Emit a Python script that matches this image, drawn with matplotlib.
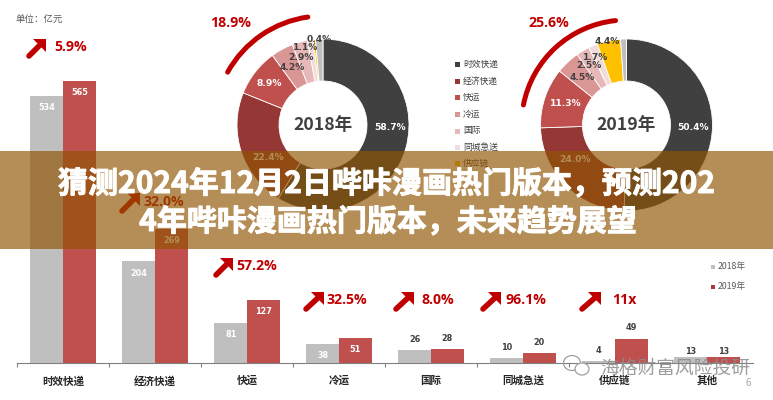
import matplotlib
matplotlib.use("Agg")
import matplotlib.pyplot as plt
import matplotlib.patheffects as pe
from matplotlib.patches import Arc, Ellipse, Polygon, Rectangle
import numpy as np

plt.rcParams['font.family'] = ['Noto Sans CJK SC', 'DejaVu Sans']

W, H = 773, 400

categories = ["时效快递", "经济快递", "快运", "冷运", "国际", "同城急送", "供应链", "其他"]
values_2018 = [534, 204, 81, 38, 26, 10, 4, 13]
values_2019 = [565, 269, 127, 51, 28, 20, 49, 13]
growth_labels = ["5.9%", "32.0%", "57.2%", "32.5%", "8.0%", "96.1%", "11x"]

share_2018 = [58.7, 22.4, 8.9, 4.2, 2.9, 1.1, 0.4, 1.4]
share_2019 = [50.4, 24.0, 11.3, 4.5, 2.5, 1.7, 4.4, 1.1]
share_labels_2018 = ["58.7%", "22.4%", "8.9%", "4.2%", "2.9%", "1.1%", "0.4%"]
share_labels_2019 = ["50.4%", "24.0%", "11.3%", "4.5%", "2.5%", "1.7%", "4.4%"]
share_colors = ["#404040", "#953735", "#C0504D", "#D99694", "#E6B9B8", "#F2DCDB", "#FFC000", "#BFBFBF"]
legend_names = categories[:7]

GRAY = "#BFBFBF"
RED = "#C0504D"
DARK_RED = "#C00000"
NUM_FONT = "DejaVu Sans"
BIG_NUM_FONT = "Open Sans"

fig = plt.figure(figsize=(W / 100, H / 100), dpi=100)


def px_axes(x0, y0, x1, y1, **kw):
    # axes placed by pixel box, y measured from the top of the image
    return fig.add_axes([x0 / W, 1 - y1 / H, (x1 - x0) / W, (y1 - y0) / H], **kw)


# Bars
ax = px_axes(17, 0, 753, 363)
ax.patch.set_alpha(0)
x = np.arange(len(categories))
bw = 0.355
ax.bar(x - bw / 2, values_2018, bw, color=GRAY)
ax.bar(x + bw / 2, values_2019, bw, color=RED)
ax.set_xlim(-0.5, 7.5)
ax.set_ylim(0, 726)
for s in ["top", "left", "right"]:
    ax.spines[s].set_visible(False)
ax.spines["bottom"].set_color("#808080")
ax.set_yticks([])
ax.set_xticks(x - 0.5)
ax.set_xticklabels([])
ax.tick_params(axis="x", length=3.2, width=0.8, color="#808080", direction="out")

for i, (a, b) in enumerate(zip(values_2018, values_2019)):
    if i < 4:
        ax.text(i - bw / 2, a - 24, str(a), color="white", fontsize=5.9, family=NUM_FONT, fontweight="bold", ha="center", va="center")
        ax.text(i + bw / 2, b - 24, str(b), color="white", fontsize=5.9, family=NUM_FONT, fontweight="bold", ha="center", va="center")
    else:
        off = 10 if i == 7 else 21
        ax.text(i - bw / 2, a + off, str(a), color="#404040", fontsize=5.9, family=NUM_FONT, fontweight="bold", ha="center", va="center")
        ax.text(i + bw / 2, b + off, str(b), color="#404040", fontsize=5.9, family=NUM_FONT, fontweight="bold", ha="center", va="center")
    ax.text(i, -36, categories[i], color="#262626", fontsize=7.6, fontweight="bold", ha="center", va="center")


# Donuts
def donut(cx, cy, shares):
    a = px_axes(cx - 100, cy - 100, cx + 100, cy + 100)
    a.pie(shares, colors=share_colors, radius=86, startangle=90, counterclock=False,
          wedgeprops=dict(width=42, edgecolor="white", linewidth=0.6))
    a.set_xlim(-100, 100)
    a.set_ylim(-100, 100)
    a.set_aspect("equal")
    a.axis("off")


donut(323, 125, share_2018)
donut(626.5, 125, share_2019)

# Everything else goes on a pixel overlay
ov = fig.add_axes([0, 0, 1, 1], zorder=10)
ov.set_xlim(0, W)
ov.set_ylim(H, 0)
ov.axis("off")

ov.text(15, 20, "单位：亿元", fontsize=6.8, color="#595959", va="center")

# Brackets over the small slices
ov.add_patch(Arc((323, 125), 218, 218, theta1=209, theta2=262, color=DARK_RED, lw=3.6, capstyle="round"))
ov.add_patch(Arc((626.5, 125), 210, 210, theta1=191, theta2=264, color=DARK_RED, lw=3.6, capstyle="round"))
ov.text(210, 23, "18.9%", color=DARK_RED, fontsize=10.2, family=BIG_NUM_FONT, fontweight="bold", va="center")
ov.text(528, 23, "25.6%", color=DARK_RED, fontsize=10.2, family=BIG_NUM_FONT, fontweight="bold", va="center")

ov.text(323, 125, "2018年", color="#404040", fontsize=12.7, fontweight="bold", ha="center", va="center")
ov.text(626.5, 125, "2019年", color="#404040", fontsize=12.7, fontweight="bold", ha="center", va="center")

pos_2018 = [(390, 128), (268, 158), (269, 84), (292, 68), (301, 57), (306, 47), (319, 39)]
pos_2019 = [(693, 128), (575, 159), (566, 103), (582, 78), (589, 66), (596, 57), (607, 42)]
for labels, pos in [(share_labels_2018, pos_2018), (share_labels_2019, pos_2019)]:
    for j, (t, p) in enumerate(zip(labels, pos)):
        ov.text(p[0], p[1], t, color="white" if j < 3 else "#404040", fontsize=6.6,
                family=NUM_FONT, fontweight="bold", ha="center", va="center")

# Donut legend
legend_y = [64, 81, 97, 114, 131, 147, 163]
for name, col, ly in zip(legend_names, share_colors, legend_y):
    ov.add_patch(Rectangle((455, ly - 2.5), 5, 5, color=col, lw=0))
    ov.text(463, ly, name, fontsize=6.3, color="#404040", va="center")

# Bar legend
for name, col, ly in [("2018年", GRAY, 267), ("2019年", "#A83C3C", 287)]:
    ov.add_patch(Rectangle((711, ly - 2), 4, 4, color=col, lw=0))
    ov.text(718, ly, name, fontsize=6.3, color="#595959", va="center")

# Growth arrows
arrow_tail = [(29, 56), (122, 211), (216, 275), (306, 309), (396, 309), (483, 309), (582, 309)]
arrow_tip = [(46, 39), (140, 193), (233, 258), (324, 292), (414, 292), (501, 292), (601, 292)]
growth_x = [54, 143, 236, 326, 421, 505, 612]
for lab, tail, tip, tx in zip(growth_labels, arrow_tail, arrow_tip, growth_x):
    ov.plot([tail[0], tip[0] - 4], [tail[1], tip[1] + 4], color=DARK_RED, lw=4, solid_capstyle="round")
    ov.add_patch(Polygon([tip, (tip[0] - 13, tip[1]), (tip[0], tip[1] + 13)], closed=True, color=DARK_RED, lw=0))
    ov.text(tx, (tail[1] + tip[1]) / 2 - 0.5, lab, color=DARK_RED, fontsize=10.2, family=BIG_NUM_FONT,
            fontweight="bold", va="center")

# Title band
ov.add_patch(Rectangle((0, 151), W, 98, facecolor="#915402", alpha=0.665, lw=0, zorder=5))
heavier = [pe.withStroke(linewidth=0.7, foreground="white")]
ov.text(386.5, 184, "猜测2024年12月2日哔咔漫画热门版本，预测202", color="white", fontsize=21.6,
        fontweight="bold", ha="center", va="center", zorder=6, path_effects=heavier)
ov.text(388, 222, "4年哔咔漫画热门版本，未来趋势展望", color="white", fontsize=21.6,
        fontweight="bold", ha="center", va="center", zorder=6, path_effects=heavier)

# Watermark
ov.add_patch(Ellipse((572, 363), 17, 15, fill=False, edgecolor="#A0A0A0", lw=0.9, zorder=7))
ov.add_patch(Ellipse((582, 369), 14, 12, facecolor="white", edgecolor="#A0A0A0", lw=0.9, zorder=7))
ov.text(675, 368, "海格财富风险投研", color="#8C8C8C", alpha=0.85, fontsize=13.5, ha="center", va="center", zorder=7)
ov.text(748, 383, "6", color="#A6A6A6", fontsize=7, ha="center", va="center", zorder=7)

fig.savefig("out.png", dpi=100)
